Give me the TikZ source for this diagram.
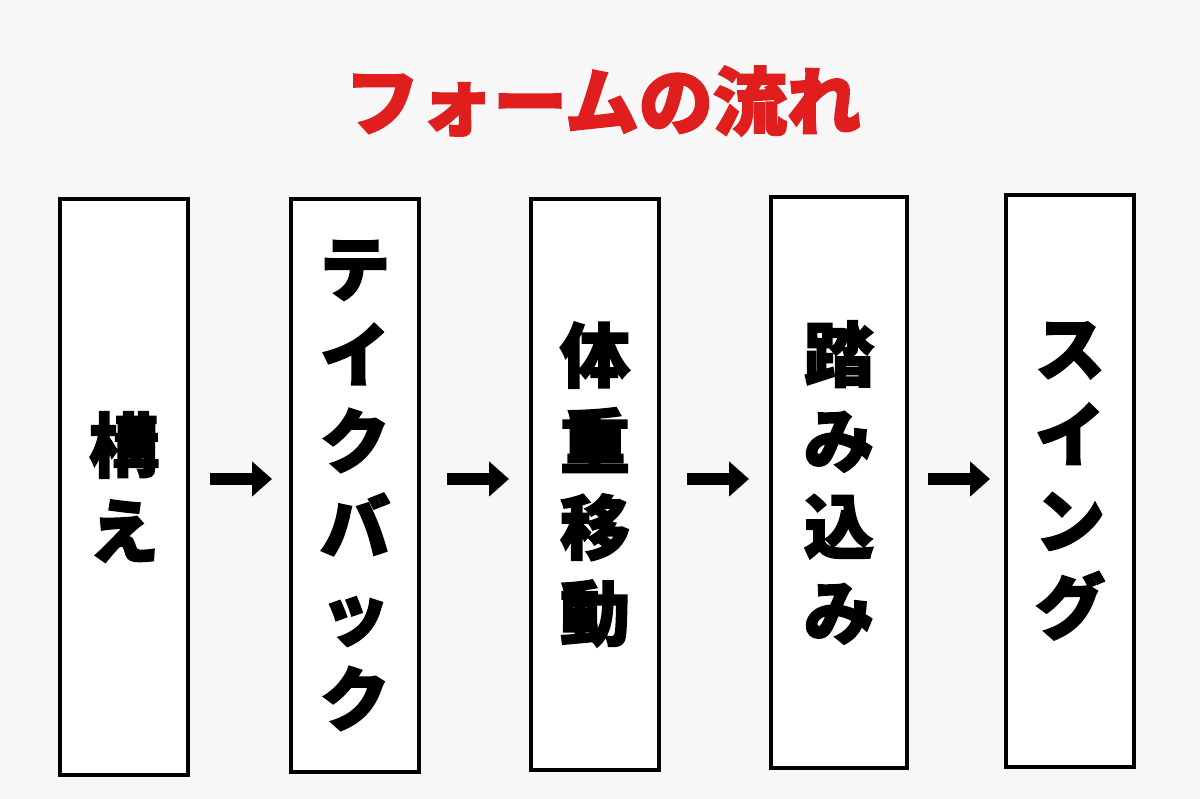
\documentclass[tikz,border=0pt]{standalone}
\usepackage{fontspec}
\newfontfamily\cjk{Noto Sans CJK JP}[BoldFeatures={FakeBold=2.5}]
\usetikzlibrary{arrows.meta}
\definecolor{ttl}{HTML}{E01E1E}
\tikzset{
 stage/.style={draw=black,line width=4pt,fill=white,minimum width=128pt,anchor=north},
 lbl/.style={font=\cjk\bfseries\fontsize{70}{86}\selectfont,align=center},
 flow/.style={line width=12pt,-{Triangle[length=20pt,width=34pt]}}
}
\begin{document}
\begin{tikzpicture}[x=1pt,y=1pt]
\fill[white!97!black] (0,0) rectangle (1200,799);
\useasboundingbox (0,0) rectangle (1200,799);
\node[font=\cjk\bfseries\fontsize{74}{80}\selectfont,text=ttl] (title) at (603,698) {フォームの流れ};
\node[stage,minimum height=576pt] (b1) at (124,602) {};
\node[stage,minimum height=573pt] (b2) at (355,602) {};
\node[stage,minimum height=571pt] (b3) at (595,602) {};
\node[stage,minimum height=571pt,minimum width=136pt] (b4) at (839,604) {};
\node[stage,minimum height=572pt] (b5) at (1070,606) {};
\node[lbl] (t1) at (b1) {構\\え};
\node[lbl] (t2) at (b2) {テ\\イ\\ク\\バ\\ッ\\ク};
\node[lbl] (t3) at (b3) {体\\重\\移\\動};
\node[lbl] (t4) at (b4) {踏\\み\\込\\み};
\node[lbl] (t5) at (b5) {ス\\イ\\ン\\グ};
\coordinate (a1s) at (210,320); \coordinate (a1e) at (272,320);
\coordinate (a2s) at (447,320); \coordinate (a2e) at (509,320);
\coordinate (a3s) at (687,320); \coordinate (a3e) at (749,320);
\coordinate (a4s) at (928,320); \coordinate (a4e) at (990,320);
\draw[flow] (a1s) -- (a1e);
\draw[flow] (a2s) -- (a2e);
\draw[flow] (a3s) -- (a3e);
\draw[flow] (a4s) -- (a4e);
\end{tikzpicture}
\end{document}
